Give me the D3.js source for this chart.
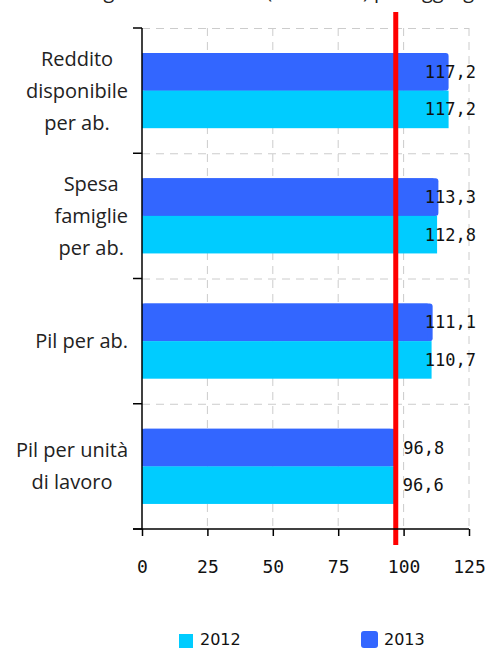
<!DOCTYPE html>
<html>
<head>
<meta charset="utf-8">
<script src="https://cdn.jsdelivr.net/npm/d3@7"></script>
<style>
  html, body { margin: 0; padding: 0; background: #ffffff; }
  svg { display: block; }
</style>
</head>
<body>
<svg id="chart" width="488" height="648"></svg>
<script>
// ---- Data ----
const titleText = "Indicatori regione Lombardia (Italia=100) per aggregati";
const categories = [
  ["Reddito", "disponibile", "per ab."],
  ["Spesa", "famiglie", "per ab."],
  ["Pil per ab."],
  ["Pil per unità", "di lavoro"]
];
const categoryKeys = ["reddito", "spesa", "pil_ab", "pil_ul"];
const series = ["2013", "2012"];
const values2013 = [117.2, 113.3, 111.1, 96.8];
const values2012 = [117.2, 112.8, 110.7, 96.6];
const xTicks = [0, 25, 50, 75, 100, 125];
const referenceValue = 97;
const legendOrder = ["2012", "2013"];
const colors = { "2013": "#3366ff", "2012": "#00ccff" };

// ---- Layout ----
const svg = d3.select("#chart");
const plot = { left: 142, right: 469, top: 28, bottom: 529 };

const x = d3.scaleLinear().domain([0, 125]).range([plot.left, plot.right]);
const y = d3.scaleBand().domain(categoryKeys).range([plot.top, plot.bottom]).paddingInner(0).paddingOuter(0);
const ySub = d3.scaleBand().domain(series).range([0, y.bandwidth()]).paddingInner(0).paddingOuter(0.667);

const fmt = v => d3.format(".1f")(v).replace(".", ",");

// Title (cut off at top in the original)
svg.append("text")
  .attr("x", 244).attr("y", -2.5)
  .attr("text-anchor", "middle")
  .attr("font-family", "Open Sans")
  .attr("font-size", 20)
  .attr("fill", "#222")
  .text(titleText);

// Gridlines
const grid = svg.append("g");
grid.selectAll("line.v").data(xTicks.slice(1)).enter().append("line")
  .attr("x1", d => x(d)).attr("x2", d => x(d))
  .attr("y1", plot.top).attr("y2", plot.bottom)
  .attr("stroke", "#cccccc").attr("stroke-width", 1)
  .attr("stroke-dasharray", "8,6");
grid.selectAll("line.h").data(categoryKeys).enter().append("line")
  .attr("x1", plot.left).attr("x2", plot.right)
  .attr("y1", d => y(d) + 0.5).attr("y2", d => y(d) + 0.5)
  .attr("stroke", "#cccccc").attr("stroke-width", 1)
  .attr("stroke-dasharray", "8,6");

// Bars
const rows = categoryKeys.map((k, i) => ({ key: k, "2013": values2013[i], "2012": values2012[i] }));
const barG = svg.append("g");
rows.forEach(r => {
  series.forEach(s => {
    const y0 = y(r.key) + ySub(s);
    const h = ySub.bandwidth();
    const w = x(r[s]) - x(0);
    if (s === "2013") {
      barG.append("rect")
        .attr("x", x(0)).attr("y", y0).attr("width", w).attr("height", h)
        .attr("rx", 3).attr("fill", colors[s]);
      barG.append("rect")
        .attr("x", x(0)).attr("y", y0).attr("width", w - 5).attr("height", h)
        .attr("fill", colors[s]);
    } else {
      barG.append("rect")
        .attr("x", x(0)).attr("y", y0).attr("width", w).attr("height", h)
        .attr("fill", colors[s]);
    }
  });
});

// Reference line
svg.append("line")
  .attr("x1", x(referenceValue)).attr("x2", x(referenceValue))
  .attr("y1", 12).attr("y2", 545)
  .attr("stroke", "#ff0000").attr("stroke-width", 5);

// Value labels
const labelRightLimit = 476;
const labG = svg.append("g");
rows.forEach(r => {
  series.forEach(s => {
    const cy = y(r.key) + ySub(s) + ySub.bandwidth() / 2;
    const t = labG.append("text")
      .attr("y", cy + 6)
      .attr("font-family", "DejaVu Sans Mono")
      .attr("font-size", 17)
      .attr("fill", "#111")
      .text(fmt(r[s]));
    const w = t.node().getComputedTextLength();
    const lx = Math.min(x(r[s]) + 8, labelRightLimit - w);
    t.attr("x", lx);
  });
});

// Y axis
const axisG = svg.append("g");
axisG.append("line")
  .attr("x1", plot.left).attr("x2", plot.left)
  .attr("y1", plot.top).attr("y2", plot.bottom)
  .attr("stroke", "#000").attr("stroke-width", 1.5);
const yTickPos = categoryKeys.map(k => y(k)).concat([plot.bottom]);
axisG.selectAll("line.yt").data(yTickPos).enter().append("line")
  .attr("x1", plot.left - 9).attr("x2", plot.left)
  .attr("y1", d => d).attr("y2", d => d)
  .attr("stroke", "#000").attr("stroke-width", 1.5);

// X axis
const xAxis = d3.axisBottom(x).tickValues(xTicks).tickSize(7).tickPadding(24).tickFormat(d => d);
const xg = svg.append("g").attr("transform", `translate(0,${plot.bottom})`).call(xAxis);
xg.select(".domain").remove();
xg.selectAll(".tick line").attr("stroke", "#000").attr("stroke-width", 1.5);
xg.selectAll(".tick text")
  .attr("font-family", "DejaVu Sans Mono")
  .attr("font-size", 18)
  .attr("fill", "#111");
xg.append("line")
  .attr("x1", plot.left - 9).attr("x2", plot.right)
  .attr("y1", 0).attr("y2", 0)
  .attr("stroke", "#000").attr("stroke-width", 1.5);

// Category labels
const catRight = 128;
const lineH = 32;
categories.forEach((lines, i) => {
  const cy = y(categoryKeys[i]) + y.bandwidth() / 2;
  const g = svg.append("g");
  const texts = lines.map((ln, j) => g.append("text")
    .attr("y", cy + (j - (lines.length - 1) / 2) * lineH + 7)
    .attr("text-anchor", "middle")
    .attr("font-family", "Open Sans")
    .attr("font-size", 20)
    .attr("fill", "#222")
    .text(ln));
  const maxW = d3.max(texts, t => t.node().getComputedTextLength());
  texts.forEach(t => t.attr("x", catRight - maxW / 2));
});

// Legend
const leg = svg.append("g");
const legendItems = [
  { key: "2012", sx: 179, sy: 634, size: 14, rx: 0, tx: 200 },
  { key: "2013", sx: 361, sy: 631, size: 17, rx: 3, tx: 384 }
];
legendItems.forEach(it => {
  leg.append("rect")
    .attr("x", it.sx).attr("y", it.sy).attr("width", it.size).attr("height", it.size)
    .attr("rx", it.rx).attr("fill", colors[it.key]);
  leg.append("text")
    .attr("x", it.tx).attr("y", 645)
    .attr("font-family", "DejaVu Sans")
    .attr("font-size", 16)
    .attr("fill", "#111")
    .text(it.key);
});
</script>
</body>
</html>
